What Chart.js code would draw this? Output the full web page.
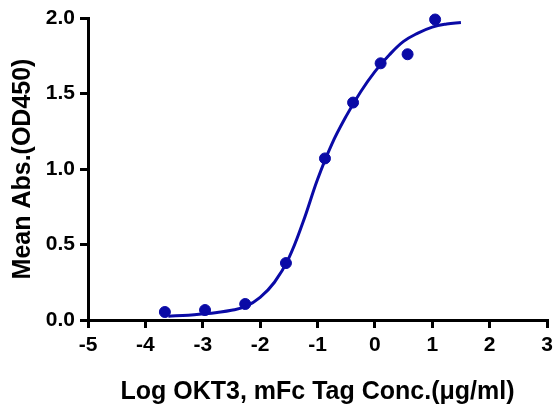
<!DOCTYPE html>
<html lang="en">
<head>
  <meta charset="UTF-8" />
  <title>OKT3 binding curve</title>
  <script src="https://cdn.jsdelivr.net/npm/chart.js"></script>
  <style>
    html,body{margin:0;padding:0;background:#fff;}
    #wrap{width:554px;height:407px;}
  </style>
</head>
<body>
  <div id="wrap"><canvas id="chart" width="554" height="407"></canvas></div>

  <script>
    /* measured points (log conc vs mean abs) */
    const logConc  = [-3.66, -2.96, -2.26, -1.55, -0.87, -0.38, 0.10, 0.57, 1.05];
    const meanAbs  = [0.053, 0.066, 0.106, 0.377, 1.07, 1.44, 1.70, 1.76, 1.99];

    /* fitted curve */
    const fitX = [-3.6, -3.25, -3.0, -2.75, -2.5, -2.25, -2.0, -1.75, -1.5, -1.25, -1.0,
                  -0.75, -0.5, -0.25, 0.0, 0.25, 0.5, 0.75, 1.0, 1.25, 1.5];
    const fitY = [0.025, 0.032, 0.04, 0.05, 0.064, 0.09, 0.15, 0.25, 0.41, 0.65, 0.93,
                  1.165, 1.35, 1.51, 1.645, 1.755, 1.845, 1.90, 1.94, 1.96, 1.97];

    const xTicks = [-5, -4, -3, -2, -1, 0, 1, 2, 3];
    const yTicks = [0, 0.5, 1.0, 1.5, 2.0];

    const blue = "#0a0aa6";
    const font = "'Liberation Sans', Arial, sans-serif";

    new Chart(document.getElementById("chart"), {
      type: "scatter",
      data: {
        datasets: [
          {
            data: fitX.map((x, i) => ({x, y: fitY[i]})),
            showLine: true, borderColor: blue, borderWidth: 3,
            pointRadius: 0, tension: 0.4, clip: false
          },
          {
            data: logConc.map((x, i) => ({x, y: meanAbs[i]})),
            backgroundColor: blue, borderColor: blue,
            pointRadius: 5.5, clip: false
          }
        ]
      },
      options: {
        responsive: false, animation: false,
        layout: {padding: {top: 18, right: 0, left: 0, bottom: 0}},
        plugins: {legend: {display: false}, tooltip: {enabled: false}},
        scales: {
          x: {
            type: "linear", min: -5, max: 3,
            afterBuildTicks: s => { s.ticks = xTicks.map(v => ({value: v})); },
            afterFit: s => { s.height = 87; s.paddingRight = 7; },
            grid: {drawOnChartArea: false, color: "#000", lineWidth: 3, tickLength: 8},
            border: {color: "#000", width: 3},
            ticks: {color: "#000", padding: 5, font: {family: font, size: 21, weight: "bold"}},
            title: {display: true, text: "Log OKT3, mFc Tag Conc.(μg/ml)", color: "#000",
                    padding: {top: 12, bottom: 0}, font: {family: font, size: 25, weight: "bold"}}
          },
          y: {
            type: "linear", min: 0, max: 2,
            afterBuildTicks: s => { s.ticks = yTicks.map(v => ({value: v})); },
            afterFit: s => { s.width = 88; },
            grid: {drawOnChartArea: false, color: "#000", lineWidth: 3, tickLength: 8},
            border: {color: "#000", width: 3},
            ticks: {color: "#000", padding: 5, callback: v => v.toFixed(1),
                    font: {family: font, size: 21, weight: "bold"}},
            title: {display: true, text: "Mean Abs.(OD450)", color: "#000",
                    padding: {top: 8, bottom: 0}, font: {family: font, size: 25, weight: "bold"}}
          }
        }
      }
    });
  </script>
</body>
</html>
